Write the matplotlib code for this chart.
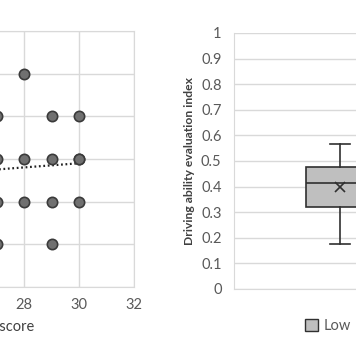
import numpy as np
import matplotlib
matplotlib.use("Agg")
import matplotlib.pyplot as plt
from matplotlib.patches import Patch

plt.rcParams['font.family'] = ['Lato', 'DejaVu Sans']

# scatter data (left panel, partly cut off)
score_x = [27, 28, 29, 30, 27, 28, 29, 30, 30, 27, 28, 29, 30, 27, 29]
score_y = [4, 5, 4, 4, 3, 3, 3, 3, 3, 2, 2, 2, 2, 1, 1]
trend_x = [22, 30]
trend_y = [2.51, 2.9]
x_ticks = [20, 22, 24, 26, 28, 30, 32]

# box plot data (right panel)
groups = ["Low", "High"]
low_stats = dict(whislo=0.175, q1=0.32, med=0.414, q3=0.478, whishi=0.565, mean=0.40)
y_ticks = [0, 0.1, 0.2, 0.3, 0.4, 0.5, 0.6, 0.7, 0.8, 0.9, 1]

W, H = 356, 364
fig = plt.figure(figsize=(W / 100, H / 100), dpi=100)
grid_c = "#d9d9d9"
txt_c = "#595959"

# left panel
ax1 = fig.add_axes([-196 / W, 1 - 287 / H, 330 / W, 256 / H])
ax1.scatter(score_x, score_y, s=55, c="#707070", edgecolors="#3a3a3a", linewidths=1.2, zorder=3)
ax1.plot(trend_x, trend_y, ls=(0, (0.8, 1.2)), color="#222222", lw=1.6, zorder=2)
ax1.set_xlim(20, 32)
ax1.set_ylim(0, 6)
ax1.set_xticks(x_ticks)
ax1.set_yticks(range(0, 7))
ax1.grid(True, color=grid_c, lw=1)
ax1.set_axisbelow(True)
for s in ax1.spines.values():
    s.set_color(grid_c)
ax1.tick_params(length=0, labelsize=10.5, colors=txt_c, pad=8)
fig.text(34 / W, 1 - 327 / H, "MMSE score", ha="right", va="center",
         fontsize=10.5, color="#404040")

# right panel
ax2 = fig.add_axes([234 / W, 1 - 289 / H, 424 / W, 256 / H])
ax2.bxp([low_stats], positions=[1], widths=0.32, showmeans=True, patch_artist=True,
        capwidths=[0.094], showfliers=False,
        boxprops=dict(facecolor="#bfbfbf", edgecolor="#303030", lw=1.2),
        medianprops=dict(color="#303030", lw=1.2),
        whiskerprops=dict(color="#303030", lw=1.2),
        capprops=dict(color="#303030", lw=1.2),
        meanprops=dict(marker="x", markeredgecolor="#303030", markersize=7, markeredgewidth=1.2))
ax2.set_xlim(0.5, 2.5)
ax2.set_ylim(0, 1)
ax2.set_yticks(y_ticks)
ax2.set_yticklabels([f"{v:g}" for v in y_ticks])
ax2.set_xticks([])
ax2.yaxis.grid(True, color=grid_c, lw=1)
ax2.set_axisbelow(True)
ax2.spines["top"].set_visible(False)
ax2.spines["right"].set_visible(False)
ax2.spines["left"].set_color(grid_c)
ax2.spines["bottom"].set_color(grid_c)
ax2.tick_params(length=0, labelsize=10.5, colors=txt_c, pad=9)
ax2.set_ylabel("Driving ability evaluation index", fontsize=8.7, fontweight="bold",
               color="#404040", labelpad=4)

fig.legend(handles=[Patch(facecolor="#bfbfbf", edgecolor="#303030", label=groups[0])],
           loc="center left", bbox_to_anchor=(305 / W, 1 - 326 / H), frameon=False,
           fontsize=10.5, handlelength=0.9, handleheight=0.9, handletextpad=0.4,
           borderpad=0, borderaxespad=0, labelcolor=txt_c)

fig.savefig("out.png", dpi=100)
